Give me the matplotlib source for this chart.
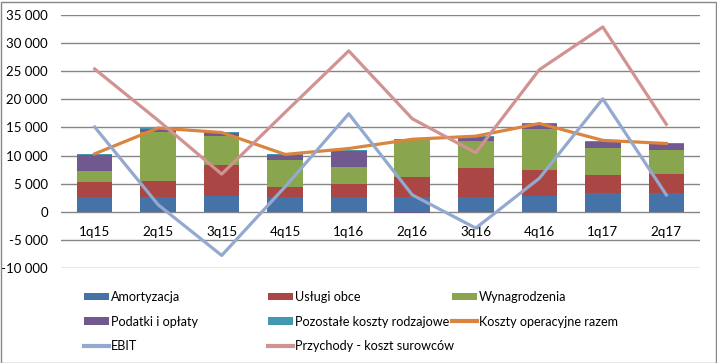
import numpy as np
import matplotlib
matplotlib.use('Agg')
import matplotlib.pyplot as plt
from matplotlib.ticker import FuncFormatter
from matplotlib.lines import Line2D
from matplotlib.patches import Patch, Rectangle

plt.rcParams['font.family'] = ['Lato', 'DejaVu Sans']

# quarters
quarters = ['1q15', '2q15', '3q15', '4q15', '1q16', '2q16', '3q16', '4q16', '1q17', '2q17']

# cost components (stacked bars)
amortyzacja = [2650, 2650, 2890, 2650, 2650, 2650, 2650, 2890, 3360, 3360]
uslugi_obce = [2650, 2830, 5470, 1770, 2360, 3590, 5180, 4530, 3240, 3420]
wynagrodzenia = [1950, 8720, 5130, 4770, 3000, 6480, 4720, 7250, 4770, 4240]
podatki = [2800, 530, 470, 940, 2770, -250, 700, 880, 1060, 1000]
pozostale = [200, 230, 180, 180, 180, 300, 180, 180, 170, 180]

# lines
koszty_razem = [10300, 14900, 14100, 10200, 11250, 12900, 13450, 15700, 12700, 12150]
ebit = [15080, 1250, -7770, 4470, 17440, 3000, -2900, 5950, 20090, 3000]
przychody = [25400, 16250, 6700, 17700, 28620, 16550, 10500, 25270, 32870, 15550]

bar_series = [
    ('Amortyzacja', amortyzacja, '#4572A7'),
    ('Usługi obce', uslugi_obce, '#AA4643'),
    ('Wynagrodzenia', wynagrodzenia, '#89A54E'),
    ('Podatki i opłaty', podatki, '#71588F'),
    ('Pozostałe koszty rodzajowe', pozostale, '#4198AF'),
]
line_series = [
    ('Koszty operacyjne razem', koszty_razem, '#DB843D'),
    ('EBIT', ebit, '#93A9CF'),
    ('Przychody - koszt surowców', przychody, '#D19392'),
]

fig = plt.figure(figsize=(7.17, 3.63), dpi=100)
ax = fig.add_axes([61 / 717, 1 - 268 / 363, (700 - 61) / 717, (268 - 15) / 363])

x = np.arange(len(quarters))
pos_bottom = np.zeros(len(quarters))
neg_bottom = np.zeros(len(quarters))
handles = {}
for name, vals, col in bar_series:
    vals = np.array(vals, dtype=float)
    bottom = np.where(vals >= 0, pos_bottom, neg_bottom)
    ax.bar(x, vals, 0.56, bottom=bottom, color=col, zorder=2)
    pos_bottom += np.where(vals >= 0, vals, 0)
    neg_bottom += np.where(vals < 0, vals, 0)
    handles[name] = Patch(facecolor=col)

for name, vals, col in line_series:
    ax.plot(x, vals, color=col, lw=2.3, zorder=3)
    handles[name] = Line2D([0], [0], color=col, lw=3)

ax.set_xlim(-0.53, len(quarters) - 0.47)
ax.set_ylim(-10000, 35000)
ax.set_yticks(np.arange(-10000, 35001, 5000))
ax.yaxis.set_major_formatter(FuncFormatter(lambda v, p: f'{int(v):,}'.replace(',', ' ')))
ax.grid(axis='y', color='#868686', lw=1, zorder=0)
ax.set_axisbelow(True)
for s in ['top', 'right', 'left']:
    ax.spines[s].set_visible(False)
ax.spines['bottom'].set_position(('data', 0))
ax.spines['bottom'].set_visible(False)
ax.set_xticks(x)
ax.set_xticklabels(quarters)
ax.tick_params(axis='x', length=0, pad=10.5, labelsize=9.7)
ax.tick_params(axis='y', length=0, pad=9.5, labelsize=9.5)

# legend: three columns placed at fixed x, read row by row
columns = [
    (84, ['Amortyzacja', 'Podatki i opłaty', 'EBIT']),
    (268, ['Usługi obce', 'Pozostałe koszty rodzajowe', 'Przychody - koszt surowców']),
    (452, ['Wynagrodzenia', 'Koszty operacyjne razem']),
]
for xpx, names in columns:
    fig.legend([handles[n] for n in names], names, ncol=1, loc='upper left',
               bbox_to_anchor=(xpx / 717, 1 - 291 / 363), frameon=False, fontsize=9.1,
               handlelength=2.0, handleheight=0.55, handletextpad=0.15,
               labelspacing=1.0, borderaxespad=0, borderpad=0)

fig.patches.append(Rectangle((0.5 / 717, 0.5 / 363), 715 / 717, 361 / 363,
                             transform=fig.transFigure, fill=False,
                             edgecolor='#868686', lw=1))

fig.savefig('out.png', dpi=100)
